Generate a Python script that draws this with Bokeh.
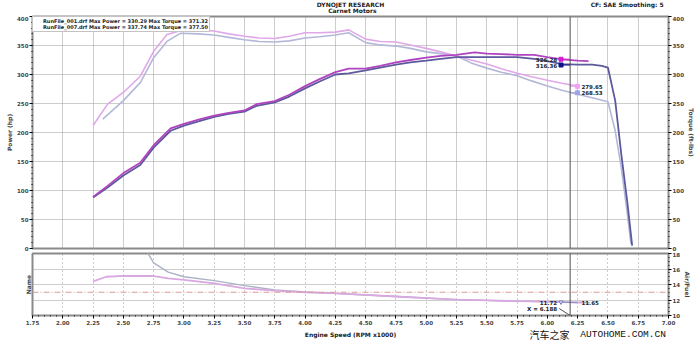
from bokeh.plotting import figure
from bokeh.models import (Range1d, LinearAxis, FixedTicker, PrintfTickFormatter, Span,
                          Legend, LegendItem)
from bokeh.layouts import column
from bokeh.embed import file_html
from bokeh.resources import INLINE
from bokeh.core.properties import value

# ---------------- data ----------------
rpm_ticks = [1.75, 2.00, 2.25, 2.50, 2.75, 3.00, 3.25, 3.50, 3.75, 4.00, 4.25,
             4.50, 4.75, 5.00, 5.25, 5.50, 5.75, 6.00, 6.25, 6.50, 6.75, 7.00]
power_ticks = [0, 50, 100, 150, 200, 250, 300, 350, 400]
afr_ticks = [10, 12, 14, 16, 18]
afr_grid = [12, 14, 16]

# Power run 007 (magenta)
rpm_p007 = [2.25, 2.37, 2.50, 2.64, 2.75, 2.89, 3.00, 3.12, 3.25, 3.37, 3.50, 3.60, 3.75, 3.87,
            4.00, 4.12, 4.25, 4.36, 4.50, 4.62, 4.75, 4.87, 5.00, 5.12, 5.25, 5.40, 5.50, 5.62,
            5.75, 5.89, 6.00, 6.12, 6.25, 6.34]
hp_p007 = [89, 108, 130, 148, 178, 207, 215, 222, 229, 234, 238, 249, 254, 265,
           280, 292, 304, 310, 310, 315, 321, 325, 329, 332, 334, 338, 336, 335,
           334, 334, 330, 326, 324, 323]

# Power run 001 (dark blue-violet)
rpm_p001 = [2.25, 2.37, 2.50, 2.64, 2.75, 2.89, 3.00, 3.12, 3.25, 3.37, 3.50, 3.60, 3.75, 3.87,
            4.00, 4.12, 4.25, 4.36, 4.50, 4.62, 4.75, 4.87, 5.00, 5.12, 5.25, 5.40, 5.50, 5.62,
            5.75, 5.89, 6.00, 6.12, 6.25, 6.37, 6.45, 6.50, 6.56, 6.61, 6.66, 6.70]
hp_p001 = [88, 105, 126, 144, 174, 203, 212, 219, 227, 232, 236, 246, 252, 262,
           276, 288, 300, 302, 307, 312, 317, 321, 324, 327, 330, 330, 330, 330,
           330, 327, 323, 318, 317, 317, 315, 312, 255, 163, 80, 5]

# Torque run 007 (light pink)
rpm_t007 = [2.25, 2.37, 2.50, 2.64, 2.75, 2.86, 3.00, 3.12, 3.25, 3.37, 3.50, 3.62, 3.75, 3.87,
            4.00, 4.12, 4.25, 4.36, 4.50, 4.62, 4.75, 4.87, 5.00, 5.12, 5.25, 5.37, 5.50, 5.62,
            5.75, 5.87, 6.00, 6.12, 6.25]
tq_t007 = [212, 249, 269, 297, 340, 369, 377, 377, 375, 370, 366, 363, 362, 366,
           372, 372, 373, 377, 361, 357, 356, 351, 345, 339, 332, 325, 318, 310,
           302, 296, 290, 285, 280]

# Torque run 001 (light blue-grey)
rpm_t001 = [2.33, 2.50, 2.64, 2.75, 2.86, 2.97, 3.12, 3.25, 3.37, 3.50, 3.62, 3.75, 3.87, 4.00,
            4.12, 4.25, 4.36, 4.50, 4.62, 4.75, 4.87, 5.00, 5.12, 5.25, 5.37, 5.50, 5.62, 5.75,
            5.87, 6.00, 6.12, 6.25, 6.37, 6.50, 6.56, 6.61, 6.66, 6.69]
tq_t001 = [223, 255, 286, 329, 357, 371, 370, 368, 364, 360, 357, 356, 358, 363,
           365, 368, 372, 355, 351, 349, 345, 339, 336, 332, 320, 311, 304, 298,
           289, 280, 273, 266, 260, 253, 203, 140, 60, 8]

# Air/Fuel
rpm_a007 = [2.25, 2.36, 2.50, 2.74, 2.87, 3.00, 3.25, 3.50, 3.75, 4.00, 4.25, 4.50, 4.75,
            5.00, 5.25, 5.50, 5.75, 6.00, 6.12, 6.30]
afr_a007 = [14.4, 15.0, 15.1, 15.1, 14.8, 14.6, 14.15, 13.5, 13.2, 13.0, 12.85, 12.65, 12.45,
            12.25, 12.05, 11.95, 11.85, 11.80, 11.72, 11.68]
rpm_a001 = [2.68, 2.75, 2.87, 3.00, 3.25, 3.50, 3.75, 4.00, 4.25, 4.50, 4.75, 5.00, 5.25,
            5.50, 5.75, 6.00, 6.25, 6.35]
afr_a001 = [18.6, 16.8, 15.6, 15.0, 14.5, 13.85, 13.3, 13.05, 12.85, 12.65, 12.45, 12.25, 12.05,
            11.95, 11.85, 11.78, 11.70, 11.65]
afr_target = 13.0

# legend
legend_runs = ["RunFile_001.drf", "RunFile_007.drf"]
legend_max_power = [330.29, 337.74]
legend_max_torque = [371.32, 377.50]
legend_colors = ["#2c3cc8", "#e03ce0"]

# cursor readouts
cursor_rpm = 6.188
readout_power = [326.28, 316.36]
readout_power_colors = ["#d21ed2", "#10108a"]
readout_torque = [279.65, 268.53]
readout_torque_colors = ["#f2a0f2", "#9aa4e6"]
readout_afr = [11.72, 11.65]

# header / footer texts
header_title = ["DYNOJET RESEARCH", "Carnet Motors"]
header_right = "CF: SAE  Smoothing: 5"
x_axis_title = "Engine Speed (RPM x1000)"
watermark_cn = "汽车之家"
watermark_en = "AUTOHOME.COM.CN"

# ---------------- style ----------------
FONT = "DejaVu Sans"
PAGE_W = 700
BORDER = 32
C_P001 = "#5c5a9c"
C_P007 = "#b044c0"
C_T001 = "#b4b8d8"
C_T007 = "#e0a8e8"
C_A001 = "#aab2c4"
C_A007 = "#d8a8e0"
GRID = "#9a9a9a"
OUTLINE = "#8a8a8a"
TXT = "#222222"


def style_axis(ax):
    ax.axis_label_text_font = FONT
    ax.axis_label_text_font_size = "6px"
    ax.axis_label_text_font_style = "bold"
    ax.axis_label_standoff = 1
    ax.major_label_text_font = FONT
    ax.major_label_text_font_size = "5.5px"
    ax.major_label_text_font_style = "bold"
    ax.major_label_standoff = 1
    ax.major_tick_out = 3
    ax.major_tick_in = 0
    ax.minor_tick_out = 1
    ax.minor_tick_in = 0
    ax.axis_line_color = None


def strip_figure(h):
    f = figure(width=PAGE_W, height=h, x_range=Range1d(0, PAGE_W),
               y_range=Range1d(0, h), x_axis_location=None, y_axis_location=None,
               min_border=0, output_backend="svg", toolbar_location=None,
               background_fill_color="white", border_fill_color="white")
    f.outline_line_color = None
    f.grid.visible = False
    return f


xr = Range1d(1.75, 7.0)

# ---------------- header strip ----------------
p0 = strip_figure(15)
p0.text([350, 352], [11.5, 5.0], text=header_title, text_align="center", text_baseline="middle",
        text_font=value(FONT), text_font_size="6px", text_font_style="bold", text_color=TXT)
p0.text([697], [11.5], text=[header_right], text_align="right", text_baseline="middle",
        text_font=value(FONT), text_font_size="6px", text_font_style="bold", text_color=TXT)

# ---------------- main panel ----------------
p1 = figure(width=PAGE_W, height=236, x_range=xr, y_range=Range1d(0, 400),
            x_axis_location=None, y_axis_location=None,
            min_border_left=BORDER, min_border_right=BORDER, min_border_top=1, min_border_bottom=3,
            output_backend="svg", toolbar_location=None,
            background_fill_color="white", border_fill_color="white")
p1.outline_line_color = OUTLINE
p1.outline_line_width = 2

left = LinearAxis(axis_label="Power (hp)",
                  ticker=FixedTicker(ticks=power_ticks, minor_ticks=list(range(0, 401, 10))))
right = LinearAxis(axis_label="Torque (ft-lbs)",
                   ticker=FixedTicker(ticks=power_ticks, minor_ticks=list(range(0, 401, 10))))
for ax in (left, right):
    style_axis(ax)
p1.add_layout(left, "left")
p1.add_layout(right, "right")

p1.xgrid.ticker = FixedTicker(ticks=rpm_ticks)
p1.ygrid.ticker = FixedTicker(ticks=power_ticks)
p1.grid.grid_line_color = GRID
p1.grid.grid_line_dash = "1 1"
p1.grid.grid_line_width = 1

p1.line(rpm_t001, tq_t001, line_color=C_T001, line_width=1.6)
p1.line(rpm_t007, tq_t007, line_color=C_T007, line_width=1.6)
p1.line(rpm_p001, hp_p001, line_color=C_P001, line_width=1.8)
p1.line(rpm_p007, hp_p007, line_color=C_P007, line_width=1.8)

p1.add_layout(Span(location=cursor_rpm, dimension="height", line_color="#505050", line_width=1))

dx_l = -0.075
dx_r = 0.06
p1.segment(x0=[cursor_rpm] * 2, y0=readout_power, x1=[cursor_rpm + dx_l] * 2, y1=readout_power,
           line_color=readout_power_colors, line_width=1)
p1.segment(x0=[cursor_rpm] * 2, y0=readout_torque, x1=[cursor_rpm + dx_r] * 2, y1=readout_torque,
           line_color=readout_torque_colors, line_width=1)
p1.scatter([cursor_rpm + dx_l] * 2, readout_power, marker="square", size=4,
           fill_color=readout_power_colors, line_color=readout_power_colors)
p1.scatter([cursor_rpm + dx_r] * 2, readout_torque, marker="square", size=4,
           fill_color=readout_torque_colors, line_color=readout_torque_colors)
p1.text([cursor_rpm + dx_l] * 2, readout_power, text=[f"{v:.2f}" for v in readout_power],
        x_offset=-4, text_align="right", text_baseline="middle",
        text_font=value(FONT), text_font_size="5.5px", text_font_style="bold", text_color=TXT)
p1.text([cursor_rpm + dx_r] * 2, readout_torque, text=[f"{v:.2f}" for v in readout_torque],
        x_offset=4, text_align="left", text_baseline="middle",
        text_font=value(FONT), text_font_size="5.5px", text_font_style="bold", text_color=TXT)

swatches = [p1.quad(left=[], right=[], top=[], bottom=[], fill_color=c, line_color=c)
            for c in legend_colors]
items = [LegendItem(label=f"{r} Max Power = {mp:.2f} Max Torque = {mt:.2f}", renderers=[s])
         for r, mp, mt, s in zip(legend_runs, legend_max_power, legend_max_torque, swatches)]
leg = Legend(items=items, location="top_left", margin=0, padding=1, spacing=0,
             label_text_font=FONT, label_text_font_size="5px", label_text_font_style="bold",
             label_text_color=TXT,
             label_height=6, glyph_height=6, glyph_width=7, label_standoff=2,
             border_line_color="#888888", border_line_width=1,
             background_fill_color="white", background_fill_alpha=1.0)
p1.add_layout(leg)

# ---------------- air/fuel panel ----------------
p2 = figure(width=PAGE_W, height=76, x_range=xr, y_range=Range1d(10, 18),
            y_axis_location=None,
            min_border_left=BORDER, min_border_right=BORDER, min_border_top=2, min_border_bottom=0,
            output_backend="svg", toolbar_location=None,
            background_fill_color="white", border_fill_color="white")
p2.outline_line_color = OUTLINE
p2.outline_line_width = 2

xa = p2.xaxis[0]
xa.ticker = FixedTicker(ticks=rpm_ticks, minor_ticks=[1.75 + 0.05 * i for i in range(106)])
xa.formatter = PrintfTickFormatter(format="%.2f")
style_axis(xa)

l2 = LinearAxis(axis_label="Name", ticker=FixedTicker(ticks=[]))
r2 = LinearAxis(axis_label="Air/Fuel",
                ticker=FixedTicker(ticks=afr_ticks, minor_ticks=[10 + 0.5 * i for i in range(17)]))
for ax in (l2, r2):
    style_axis(ax)
p2.add_layout(l2, "left")
p2.add_layout(r2, "right")

p2.xgrid.ticker = FixedTicker(ticks=rpm_ticks)
p2.ygrid.ticker = FixedTicker(ticks=afr_grid)
p2.grid.grid_line_color = GRID
p2.xgrid.grid_line_dash = "1 3"
p2.ygrid.grid_line_dash = "1 1"

p2.add_layout(Span(location=afr_target, dimension="width", line_color="#d89a9a",
                   line_dash="6 2 1 2", line_width=1))
p2.line(rpm_a001, afr_a001, line_color=C_A001, line_width=1.4)
p2.line(rpm_a007, afr_a007, line_color=C_A007, line_width=1.8)
p2.add_layout(Span(location=cursor_rpm, dimension="height", line_color="#505050", line_width=1))

ax_afr = [cursor_rpm + dx_l, cursor_rpm + dx_r]
p2.line(ax_afr, readout_afr, line_color="#8890c0", line_width=1)
p2.scatter([ax_afr[0]], [readout_afr[0]], marker="inverted_triangle", size=4,
           fill_color="white", line_color="#7078b8")
p2.text([ax_afr[0]], [readout_afr[0]], text=[f"{readout_afr[0]:.2f}"], x_offset=-4,
        text_align="right", text_baseline="middle", text_font=value(FONT),
        text_font_size="5.5px", text_font_style="bold", text_color=TXT)
p2.text([ax_afr[1]], [readout_afr[1]], text=[f"{readout_afr[1]:.2f}"], x_offset=4,
        text_align="left", text_baseline="middle", text_font=value(FONT),
        text_font_size="5.5px", text_font_style="bold", text_color=TXT)
p2.text([ax_afr[0]], [readout_afr[0]], text=[f"X = {cursor_rpm:.3f}"], x_offset=-4, y_offset=7,
        text_align="right", text_baseline="middle", text_font=value(FONT),
        text_font_size="5.5px", text_font_style="bold", text_color=TXT)
p2.segment(x0=[cursor_rpm - 0.09], y0=[10.9], x1=[cursor_rpm], y1=[10.0],
           line_color="#505050", line_width=1)

# ---------------- footer strip ----------------
p3 = strip_figure(14)
p3.text([350], [7], text=[x_axis_title], text_align="center", text_baseline="middle",
        text_font=value(FONT), text_font_size="6px", text_font_style="bold", text_color=TXT)
p3.text([547], [7], text=[watermark_cn], text_align="left", text_baseline="middle",
        text_font=value("Noto Sans CJK SC"), text_font_size="10px", text_color="#111111")
p3.text([603], [7], text=[watermark_en], text_align="left", text_baseline="middle",
        text_font=value("Liberation Mono"), text_font_size="9.5px", text_color="#111111")

layout = column(p0, p1, p2, p3, spacing=0)
open("out.html", "w").write(file_html(layout, INLINE))
